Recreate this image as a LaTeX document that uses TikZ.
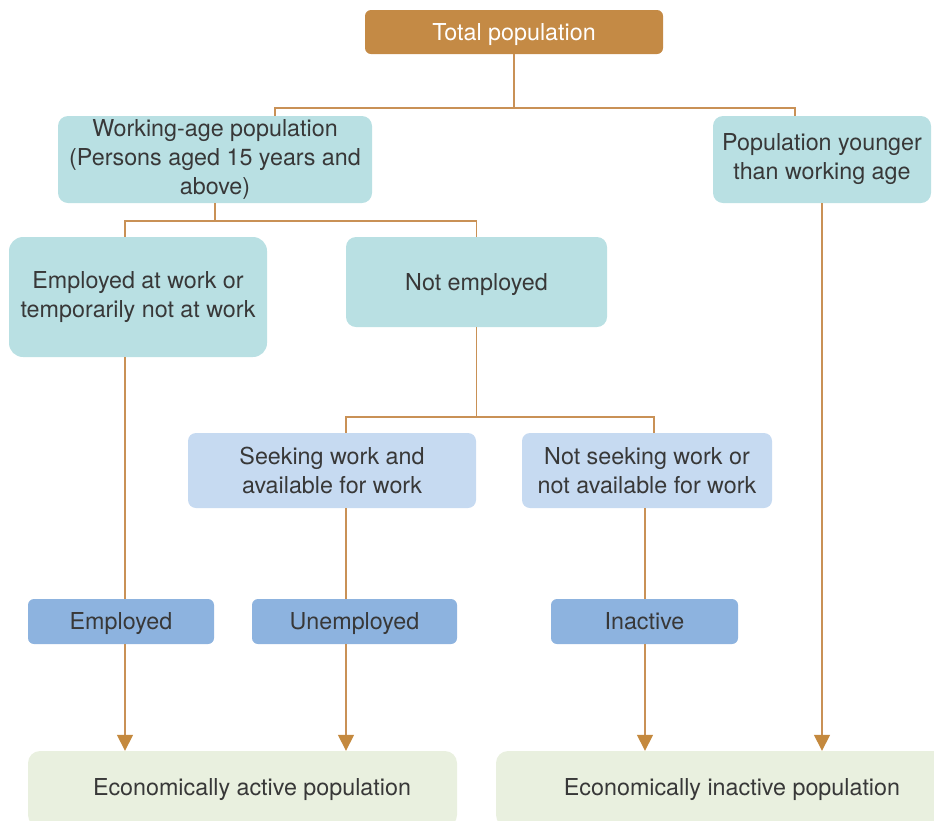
\documentclass[tikz,border=0pt]{standalone}
\usepackage{fontspec}
\setmainfont{TeX Gyre Heros}
\usetikzlibrary{arrows.meta}
\definecolor{totc}{HTML}{C48A45}
\definecolor{tealc}{HTML}{B9E0E3}
\definecolor{lbluec}{HTML}{C6DAF1}
\definecolor{mbluec}{HTML}{8DB3DF}
\definecolor{greenc}{HTML}{E9F0DF}
\definecolor{linec}{HTML}{C99156}
\definecolor{arrc}{HTML}{C4893E}
\definecolor{txtc}{HTML}{383838}
\newcommand{\lowr}[2]{\raisebox{-#1pt}[\height][\depth]{#2}}
\tikzset{
  box/.style={rectangle, rounded corners=10pt, align=center, inner sep=0pt,
    text=txtc, font=\fontsize{23.3}{29}\selectfont},
  totbox/.style={box, fill=totc, text=white, rounded corners=6pt},
  tealbox/.style={box, fill=tealc},
  lbluebox/.style={box, fill=lbluec, rounded corners=8pt},
  mbluebox/.style={box, fill=mbluec, rounded corners=6pt},
  greenbox/.style={box, fill=greenc, rounded corners=12pt},
  lbl/.style={text=txtc, font=\fontsize{23.3}{29}\selectfont, inner sep=0pt},
  conn/.style={draw=linec, line width=1.5pt},
  arr/.style={conn, -{Triangle[width=16pt,length=16pt,fill=arrc,color=arrc]}},
}
\begin{document}
\begin{tikzpicture}[x=1pt,y=-1pt]
\useasboundingbox (0,0) rectangle (934,820);
\begin{scope}
\clip (0,0) rectangle (934,820);
% nodes
\node[totbox, minimum width=298, minimum height=44] (tot) at (514,32) {\lowr{3}{Total population}};
\node[tealbox, minimum width=314, minimum height=87] (wa) at (215,159.5) {Working-age population\\(Persons aged 15 years and\\above)};
\node[tealbox, minimum width=218, minimum height=87] (yng) at (822,159.5) {Population younger\\than working age};
\node[tealbox, minimum width=258, minimum height=120, rounded corners=14pt] (ewk) at (138,297) {Employed at work or\\temporarily not at work};
\node[tealbox, minimum width=261, minimum height=90] (ne) at (476.5,282) {\lowr{3}{Not employed}};
\node[lbluebox, minimum width=288, minimum height=75] (sk) at (332,470.5) {Seeking work and\\available for work};
\node[lbluebox, minimum width=250, minimum height=75] (ns) at (647,470.5) {Not seeking work or\\not available for work};
\node[mbluebox, minimum width=186, minimum height=45] (emp) at (121,621.5) {\lowr{2}{Employed}};
\node[mbluebox, minimum width=205, minimum height=45] (un) at (354.5,621.5) {\lowr{2}{Unemployed}};
\node[mbluebox, minimum width=187, minimum height=45] (ina) at (644.5,621.5) {Inactive};
\node[greenbox, minimum width=429, minimum height=76] (ea) at (242.5,789) {};
\node[greenbox, minimum width=470, minimum height=76] (ei) at (731,789) {};
\node[lbl] (eat) at (252,789) {\lowr{1}{Economically active population}};
\node[lbl] (eit) at (732,789) {\lowr{1}{Economically inactive population}};
\end{scope}
% helper coordinates
\coordinate (x125) at (125,0);
\coordinate (x275) at (275,0);
\coordinate (x795) at (795,0);
\coordinate (x346) at (346,0);
\coordinate (x645) at (645,0);
\coordinate (x654) at (654,0);
\coordinate (x822) at (822,0);
\coordinate (j1) at (514,108);
\coordinate (j2) at (215,221);
\coordinate (j3) at (476.5,417);
% tree connectors
\draw[conn] (tot.south) -- (j1);
\draw[conn] (wa.north -| x275) |- (j1) -| (yng.north -| x795);
\draw[conn] (wa.south) -- (j2);
\draw[conn] (ewk.north -| x125) |- (j2) -| (ne.north);
\draw[conn] (ne.south) -- (j3);
\draw[conn] (sk.north -| x346) |- (j3) -| (ns.north -| x654);
% vertical links
\draw[conn] (ewk.south -| x125) -- (emp.north -| x125);
\draw[conn] (sk.south -| x346) -- (un.north -| x346);
\draw[conn] (ns.south -| x645) -- (ina.north -| x645);
% arrows
\draw[arr] (emp.south -| x125) -- (ea.north -| x125);
\draw[arr] (un.south -| x346) -- (ea.north -| x346);
\draw[arr] (ina.south -| x645) -- (ei.north -| x645);
\draw[arr] (yng.south -| x822) -- (ei.north -| x822);
\end{tikzpicture}
\end{document}
